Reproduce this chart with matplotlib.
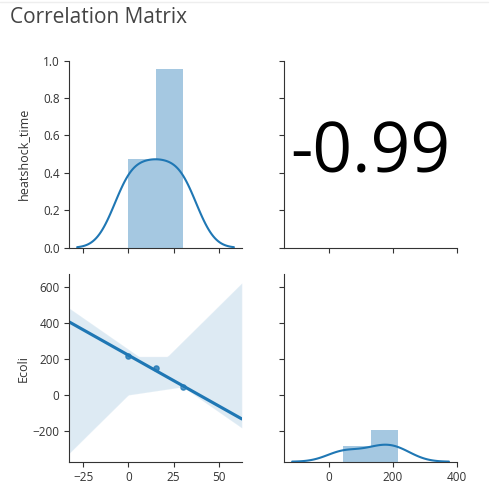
import numpy as np
import matplotlib
matplotlib.use("Agg")
import matplotlib.pyplot as plt
from matplotlib.lines import Line2D
import seaborn as sns

# data
columns = ["heatshock_time", "Ecoli"]
heatshock_time = [0, 15, 30]
ecoli = [215, 150, 45]

sns.set_style("ticks")
plt.rcParams['font.family'] = ['Open Sans', 'DejaVu Sans']
plt.rcParams['text.color'] = '#333333'
plt.rcParams['axes.labelcolor'] = '#333333'
plt.rcParams['xtick.color'] = '#333333'
plt.rcParams['ytick.color'] = '#333333'
plt.rcParams['axes.edgecolor'] = '#333333'

BLUE = '#1f77b4'


def fd_bins(a):
    a = np.asarray(a, dtype=float)
    iqr = np.subtract(*np.percentile(a, [75, 25]))
    h = 2 * iqr / len(a) ** (1 / 3)
    return min(int(np.ceil((a.max() - a.min()) / h)), 50)


def kde_curve(a, cut=3, gridsize=100):
    # normal reference bandwidth (scott, statsmodels flavour)
    a = np.asarray(a, dtype=float)
    iqr = np.subtract(*np.percentile(a, [75, 25]))
    sigma = min(np.std(a, ddof=1), iqr / 1.349)
    bw = 1.059 * sigma * len(a) ** (-0.2)
    grid = np.linspace(a.min() - cut * bw, a.max() + cut * bw, gridsize)
    z = (grid[:, None] - a[None, :]) / bw
    dens = np.exp(-0.5 * z ** 2).sum(axis=1) / (len(a) * bw * np.sqrt(2 * np.pi))
    return grid, dens


def dist(ax, a):
    ax.hist(a, bins=fd_bins(a), density=True, color=BLUE, alpha=0.4,
            edgecolor='none', linewidth=0)
    x, y = kde_curve(a)
    ax.plot(x, y, color=BLUE, lw=1.5)


fig = plt.figure(figsize=(4.9, 4.88), dpi=100)
W, H = 0.352, 0.3838
ax00 = fig.add_axes([0.1414, 0.4922, W, H])
ax01 = fig.add_axes([0.5802, 0.4922, W, H], sharey=ax00)
ax10 = fig.add_axes([0.1414, 0.0539, W, H], sharex=ax00)
ax11 = fig.add_axes([0.5802, 0.0539, W, H], sharex=ax01, sharey=ax10)

# diagonal: twin axes sharing y with each other
d0 = ax00.twinx()
d1 = ax11.twinx()
d1.sharey(d0)
dist(d0, heatshock_time)
dist(d1, ecoli)
for d in (d0, d1):
    d.set_ylim(bottom=0)
    d.axis('off')

# upper: correlation value
ax01.set_ylim(0, 1)
r = np.corrcoef(heatshock_time, ecoli)[0, 1]
ax01.text(0.5, 0.5, "{:.2f}".format(r), transform=ax01.transAxes,
          ha='center', va='center', fontsize=50, color='black')

# lower: regression
sns.regplot(x=np.array(heatshock_time), y=np.array(ecoli), ax=ax10,
            truncate=False, seed=0, color=BLUE,
            scatter_kws={'s': 14})

for ax in (ax00, ax01, ax10, ax11):
    sns.despine(ax=ax)
    ax.tick_params(labelsize=8.5)
    ax.set_xlabel('')
    ax.set_ylabel('')

ax00.set_yticks([0.0, 0.2, 0.4, 0.6, 0.8, 1.0])
ax00.set_ylim(0, 1)
ax10.set_xticks([-25, 0, 25, 50])
ax11.set_xticks([0, 200, 400])
ax10.set_yticks([600, 400, 200, 0, -200])

ax00.tick_params(labelbottom=False)
ax01.tick_params(labelbottom=False, labelleft=False)
ax11.tick_params(labelleft=False)

ax00.set_ylabel(columns[0], fontsize=9)
ax10.set_ylabel(columns[1], fontsize=9)
ax00.yaxis.set_label_coords(-0.23, 0.5)
ax10.yaxis.set_label_coords(-0.23, 0.5)

fig.text(0.02, 0.985, "Correlation Matrix", ha='left', va='top',
         fontsize=15, color='#444444')
fig.add_artist(Line2D([0, 0.995], [0.996, 0.996], color='#eeeeee', lw=1))

fig.savefig('out.png', dpi=100)
